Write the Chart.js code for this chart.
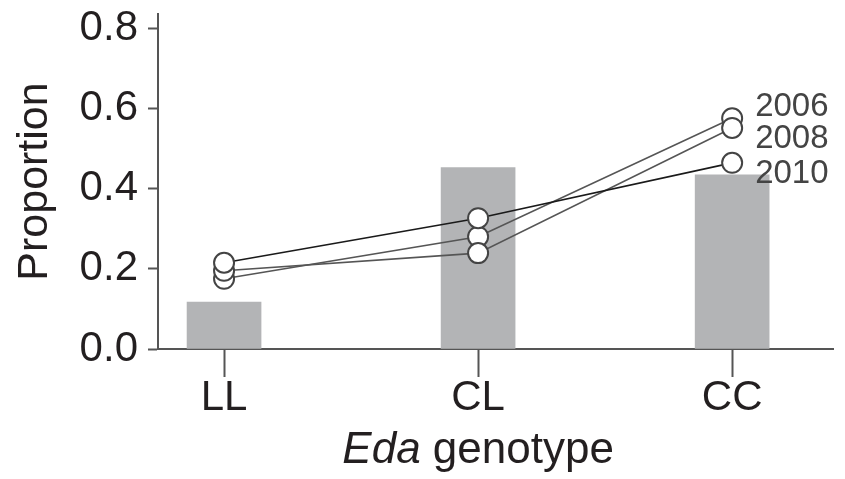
<!DOCTYPE html>
<html>
<head>
<meta charset="utf-8">
<script src="https://cdn.jsdelivr.net/npm/chart.js@4"></script>
<style>
  body { margin: 0; background: #fff; }
  #wrap { width: 845px; height: 479px; }
</style>
</head>
<body>
<div id="wrap"><canvas id="chart"></canvas></div>
<script>
const genotypes = ['LL', 'CL', 'CC'];
const barValues = [0.117, 0.452, 0.434];
const years = ['2006', '2008', '2010'];
const values2006 = [0.175, 0.280, 0.575];
const values2008 = [0.195, 0.239, 0.551];
const values2010 = [0.215, 0.326, 0.464];
const yTicks = [0, 0.2, 0.4, 0.6, 0.8];

const FONT = "'Liberation Sans', Arial, sans-serif";
const AXIS = '#555';
const TEXT = '#231f20';

const lineColors = ['#555', '#555', '#1a1a1a'];
const labelShift = [-11, 11, 11];

const toPoints = vals => vals.map((v, i) => ({ x: i, y: v }));

const seriesValues = [values2006, values2008, values2010];
const lineSets = seriesValues.map((vals, i) => ({
  type: 'line',
  label: years[i],
  data: toPoints(vals),
  borderColor: lineColors[i],
  borderWidth: 1.6,
  pointRadius: 10,
  pointBorderWidth: 2,
  pointBorderColor: '#444',
  pointBackgroundColor: '#fff',
  order: 3 - i
}));

// year names next to the CC points
const yearLabels = {
  id: 'yearLabels',
  afterDatasetsDraw(chart) {
    const ctx = chart.ctx;
    ctx.save();
    ctx.font = '33px ' + FONT;
    ctx.fillStyle = '#444';
    ctx.textAlign = 'left';
    ctx.textBaseline = 'middle';
    chart.data.datasets.forEach((ds, i) => {
      if (ds.type !== 'line') return;
      const pt = chart.getDatasetMeta(i).data[2];
      const k = years.indexOf(ds.label);
      ctx.fillText(ds.label, pt.x + 23, pt.y + labelShift[k]);
    });
    ctx.restore();
  }
};

// x title with italic gene name
const xTitle = {
  id: 'xTitle',
  afterDraw(chart) {
    const ctx = chart.ctx;
    const x = chart.scales.x.getPixelForValue(1);
    const y = 463;
    ctx.save();
    ctx.fillStyle = TEXT;
    ctx.textBaseline = 'alphabetic';
    ctx.textAlign = 'left';
    ctx.font = 'italic 44px ' + FONT;
    const w1 = ctx.measureText('Eda').width;
    ctx.font = '44px ' + FONT;
    const w2 = ctx.measureText(' genotype').width;
    const start = x - (w1 + w2) / 2;
    ctx.font = 'italic 44px ' + FONT;
    ctx.fillText('Eda', start, y);
    ctx.font = '44px ' + FONT;
    ctx.fillText(' genotype', start + w1, y);
    ctx.restore();
  }
};

new Chart(document.getElementById('chart'), {
  type: 'bar',
  data: {
    datasets: [
      {
        type: 'bar',
        label: 'Genotype',
        data: toPoints(barValues),
        backgroundColor: '#b3b4b6',
        barThickness: 74,
        order: 10
      },
      ...lineSets
    ]
  },
  options: {
    responsive: true,
    maintainAspectRatio: false,
    animation: false,
    layout: { padding: { top: 14, right: 0, left: 0, bottom: 0 } },
    plugins: {
      legend: { display: false },
      tooltip: { enabled: false }
    },
    scales: {
      x: {
        type: 'linear',
        min: -0.26,
        max: 2.397,
        offset: false,
        afterFit: scale => {
          scale.height = 130;
          scale.paddingLeft = 0;
          scale.paddingRight = 0;
        },
        afterBuildTicks: scale => {
          scale.ticks = genotypes.map((g, i) => ({ value: i }));
        },
        border: { color: AXIS, width: 2 },
        grid: {
          offset: false,
          drawOnChartArea: false,
          drawTicks: true,
          tickLength: 28,
          tickColor: AXIS,
          tickWidth: 2
        },
        ticks: {
          padding: -4,
          color: TEXT,
          font: { family: FONT, size: 42 },
          callback: v => genotypes[v]
        }
      },
      y: {
        min: 0,
        max: 0.835,
        afterFit: scale => {
          scale.width = 158;
          scale.paddingTop = 0;
          scale.paddingBottom = 0;
        },
        afterBuildTicks: scale => {
          scale.ticks = yTicks.map(v => ({ value: v }));
        },
        border: { color: AXIS, width: 2 },
        grid: {
          drawOnChartArea: false,
          drawTicks: true,
          tickLength: 10,
          tickColor: AXIS,
          tickWidth: 2
        },
        ticks: {
          padding: 10,
          color: TEXT,
          font: { family: FONT, size: 42 },
          callback: v => v.toFixed(1)
        },
        title: {
          display: true,
          text: 'Proportion',
          color: TEXT,
          font: { family: FONT, size: 43 },
          padding: { top: 9, bottom: 0 }
        }
      }
    }
  },
  plugins: [yearLabels, xTitle]
});
</script>
</body>
</html>
